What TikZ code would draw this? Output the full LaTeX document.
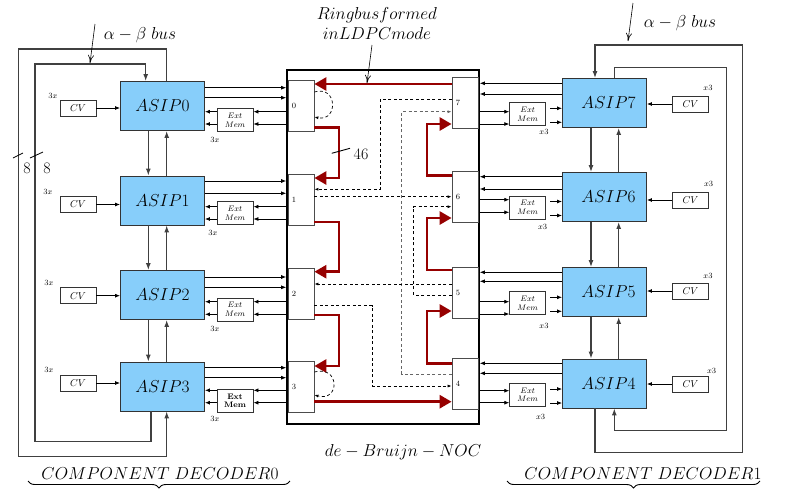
\documentclass[tikz,border=0pt]{standalone}
\usetikzlibrary{arrows.meta,decorations.pathreplacing,calc}
\definecolor{asipblue}{RGB}{135,206,250}
\definecolor{ringred}{RGB}{150,0,0}
\newcommand\fsz[1]{\fontsize{#1}{#1}\selectfont}
\begin{document}
\begin{tikzpicture}[x=1pt,y=-1pt,
 asip/.style={draw=black!80, line width=0.9pt, fill=asipblue, minimum width=84pt, minimum height=49pt, inner sep=0pt, font=\fsz{17}},
 cvbox/.style={draw=black!80, line width=0.8pt, minimum width=36pt, minimum height=16pt, inner sep=0pt, font=\fsz{10}},
 extbox/.style={draw=black!80, line width=0.8pt, minimum width=36pt, minimum height=23pt, inner sep=0pt, font=\fontsize{8.5}{8.5}\selectfont, align=center},
 port/.style={draw=black!70, line width=0.8pt, fill=white, minimum width=26pt, minimum height=51pt, inner sep=0pt},
 portlbl/.style={font=\fsz{8}, inner sep=0pt},
 small/.style={font=\fsz{8}, inner sep=0pt},
 big/.style={font=\fsz{17}, inner sep=0pt},
 arr/.style={draw=black, line width=0.8pt, -{Latex[length=5pt,width=4pt]}},
 bus/.style={draw=black!75, line width=1.2pt},
 busarr/.style={bus, -{Latex[length=7pt,width=5pt]}},
 redarr/.style={draw=ringred, line width=2.8pt, -{Triangle[length=12pt,width=13pt]}},
 dasharr/.style={draw=black, dash pattern=on 3pt off 2.5pt, line width=0.7pt, -{Latex[length=4pt,width=3pt]}},
 pointer/.style={draw=black, line width=0.6pt, -{To[length=8pt,width=6pt]}},
]
\useasboundingbox (0,0) rectangle (790,493);

% NOC
\node[draw=black, line width=1.6pt, minimum width=192pt, minimum height=354pt, inner sep=0pt] (noc) at (383,247) {};
\node[port] (p0) at (301,106.2) {};
\node[port] (p1) at (301,199.5) {};
\node[port] (p2) at (301,294) {};
\node[port] (p3) at (301,387) {};
\node[port] (p7) at (465,103) {};
\node[port] (p6) at (465,196.5) {};
\node[port] (p5) at (465,292.5) {};
\node[port] (p4) at (465,383.5) {};
\foreach \k in {0,1,2,3,4,5,6,7}{\node[portlbl, right=4pt] at (p\k.west) {\k};}

% red ring
\draw[redarr] (p7.west |- 0,84) -- (p0.east |- 0,84);
\draw[redarr] (p0.east |- 0,127.3) -| (339,178) -- (p1.east |- 0,178);
\draw[redarr] (p1.east |- 0,222) -| (339,271.7) -- (p2.east |- 0,271.7);
\draw[redarr] (p2.east |- 0,315) -| (339,366) -- (p3.east |- 0,366);
\draw[redarr] (p3.east |- 0,401.7) -- (p4.west |- 0,401.7);
\draw[redarr] (p4.west |- 0,363.3) -| (427,311) -- (p5.west |- 0,311);
\draw[redarr] (p5.west |- 0,270) -| (427,218) -- (p6.west |- 0,218);
\draw[redarr] (p6.west |- 0,175.7) -| (427,124) -- (p7.west |- 0,124);

% dashed de Bruijn links
\draw[dasharr] (p7.west |- 0,99.3) -| (380,189.3) -- (p1.east |- 0,189.3);
\draw[dasharr, draw=black!60] (p4.west |- 0,374) -| (401.7,111.7) -- (p7.west |- 0,111.7);
\draw[dasharr] (p1.east |- 0,196.7) -- (p6.west |- 0,196.7);
\draw[dasharr] (p5.west |- 0,295) -| (413.3,206.7) -- (p6.west |- 0,206.7);
\draw[dasharr] (p5.west |- 0,284) -- (p2.east |- 0,284);
\draw[dasharr] (p2.east |- 0,305.7) -| (372.3,386) -- (p4.west |- 0,386);
\draw[dasharr] (p0.east |- 0,92) .. controls (338,85) and (338,122) .. (p0.east |- 0,117);
\draw[dasharr] (p3.east |- 0,372) .. controls (340,365) and (340,402) .. (p3.east |- 0,395);

% 46 tick
\draw[line width=0.9pt] (331.7,153.3) -- (350,148.3);
\node[font=\fsz{16}, inner sep=0pt] at (361,154) {46};

% Ringbus label
\node[align=center, font=\fontsize{17}{20}\selectfont, inner sep=0pt] (ring) at (377,23) {$Ringbusformed$\\$inLDPCmode$};
\draw[pointer] (372,45) -- (367,83);
\node[big] at (403,452) {$de-Bruijn-NOC$};

% Left ASIPs
\node[asip] (asip0) at (162.5,106) {$ASIP0$\hspace{8pt}};
\node[asip] (asip1) at (162.5,200.5) {$ASIP1$\hspace{8pt}};
\node[asip] (asip2) at (162.5,295) {$ASIP2$\hspace{8pt}};
\node[asip] (asip3) at (162.5,386.5) {$ASIP3$\hspace{8pt}};
\node[cvbox] (cv0) at (78,108) {$CV$};
\node[cvbox] (cv1) at (78,204.5) {$CV$};
\node[cvbox] (cv2) at (78,295.7) {$CV$};
\node[cvbox] (cv3) at (78,383) {$CV$};
\node[extbox] (ext0) at (235,120.3) {$Ext$\\$Mem$};
\node[extbox] (ext1) at (235,213.3) {$Ext$\\$Mem$};
\node[extbox] (ext2) at (235,309.5) {$Ext$\\$Mem$};
\node[extbox, font=\fontsize{8}{8.5}\selectfont\bfseries] (ext3) at (235,400.8) {Ext\\Mem};
\foreach \x/\y in {53/96,48/191.7,49/283,49/370,215/140,213/232.7,215/329,215/419.3}{\node[small] at (\x,\y) {$3x$};}

\foreach \k/\oa/\ob/\ia/\ib in {0/87.7/97.7/111.7/124, 1/181/193.3/206.7/219, 2/277/287.3/301.7/314.3, 3/367.7/377.7/390.3/402.7}{
 \draw[arr] (cv\k) -- (cv\k -| asip\k.west);
 \draw[arr] (asip\k.east |- 0,\oa) -- (noc.west |- 0,\oa);
 \draw[arr] (asip\k.east |- 0,\ob) -- (noc.west |- 0,\ob);
 \draw[arr] (noc.west |- 0,\ia) -- (ext\k.east |- 0,\ia);
 \draw[arr] (noc.west |- 0,\ib) -- (ext\k.east |- 0,\ib);
 \draw[arr] (ext\k.west |- 0,\ia) -- (asip\k.east |- 0,\ia);
 \draw[arr] (ext\k.west |- 0,\ib) -- (asip\k.east |- 0,\ib);
}
\foreach \a/\b in {0/1,1/2,2/3}{
 \draw[busarr] (asip\a.south -| 148.3,0) -- (asip\b.north -| 148.3,0);
 \draw[busarr] (asip\b.north -| 166.7,0) -- (asip\a.south -| 166.7,0);
}
\draw[busarr] (asip0.north -| 166.7,0) |- (18.3,49) |- (166.7,456.7) -- (asip3.south -| 166.7,0);
\draw[busarr] (asip3.south -| 151,0) |- (35,441.7) |- (145.7,64) -- (asip0.north -| 145.7,0);
\draw[pointer] (95,24) -- (90,63);
\node[font=\fsz{16}, inner sep=0pt] at (140,35) {$\alpha-\beta\ bus$};
\draw[line width=0.8pt] (13,158) -- (23,153);
\draw[line width=0.8pt] (30,158) -- (43,152);
\node[font=\fsz{16}, inner sep=0pt] at (27,168) {8};
\node[font=\fsz{16}, inner sep=0pt] at (47,168) {8};

% Right ASIPs
\node[asip] (asip7) at (604.5,103) {\hspace{8pt}$ASIP7$};
\node[asip] (asip6) at (604.5,197) {\hspace{8pt}$ASIP6$};
\node[asip] (asip5) at (604.5,292) {\hspace{8pt}$ASIP5$};
\node[asip] (asip4) at (604.5,383.5) {\hspace{8pt}$ASIP4$};
\node[cvbox] (cv7) at (690.5,104) {$CV$};
\node[cvbox] (cv6) at (690.5,200) {$CV$};
\node[cvbox] (cv5) at (690.5,291) {$CV$};
\node[cvbox] (cv4) at (690.5,384) {$CV$};
\node[extbox] (ext7) at (527.7,114.3) {$Ext$\\$Mem$};
\node[extbox] (ext6) at (527.7,207.5) {$Ext$\\$Mem$};
\node[extbox] (ext5) at (527.7,303.3) {$Ext$\\$Mem$};
\node[extbox] (ext4) at (527.7,395) {$Ext$\\$Mem$};
\foreach \x/\y in {708/88,708.7/184.3,708/276,711.7/370.7,544/132.3,542.7/227,544/326,540.7/417.3}{\node[small] at (\x,\y) {$x3$};}

\foreach \k/\oa/\ob/\ia/\ib in {7/83.3/94/111.7/124, 6/176.7/189/199.7/212.3, 5/272.3/281.3/301.7/314, 4/363.3/373.3/390.7/402.7}{
 \draw[arr] (cv\k) -- (cv\k -| asip\k.east);
 \draw[arr] (asip\k.west |- 0,\oa) -- (noc.east |- 0,\oa);
 \draw[arr] (asip\k.west |- 0,\ob) -- (noc.east |- 0,\ob);
 \draw[arr] (noc.east |- 0,\ia) -- (ext\k.west |- 0,\ia);
 \draw[arr] (noc.east |- 0,\ib) -- (ext\k.west |- 0,\ib);
 \draw[arr] ($(ext\k.east)+(4,-6)$) -- ($(ext\k.east -| asip\k.west)+(0,-6)$);
 \draw[arr] ($(ext\k.east)+(4,8)$) -- ($(ext\k.east -| asip\k.west)+(0,8)$);
}
\foreach \a/\b in {7/6,6/5,5/4}{
 \draw[busarr] (asip\a.south -| 591,0) -- (asip\b.north -| 591,0);
 \draw[busarr] (asip\b.north -| 618.7,0) -- (asip\a.south -| 618.7,0);
}
\draw[busarr] (asip4.south -| 595,0) |- (742.3,452.7) |- (595,45) -- (asip7.north -| 595,0);
\draw[busarr] (asip7.north -| 614.3,0) |- (726.7,67.3) |- (614.3,430.7) -- (asip4.south -| 614.3,0);
\draw[pointer] (633,3) -- (628,41);
\node[font=\fsz{16}, inner sep=0pt] at (680,23) {$\alpha-\beta\ bus$};

% component labels and braces
\node[big] at (160,474) {$COMPONENT\ DECODER0$};
\node[big] at (643,474) {$COMPONENT\ DECODER1$};
\draw[decorate, decoration={brace, mirror, amplitude=7pt}, line width=0.9pt] (28,481) -- (290,481);
\draw[decorate, decoration={brace, mirror, amplitude=7pt}, line width=0.9pt] (507,481) -- (760,481);
\end{tikzpicture}
\end{document}
